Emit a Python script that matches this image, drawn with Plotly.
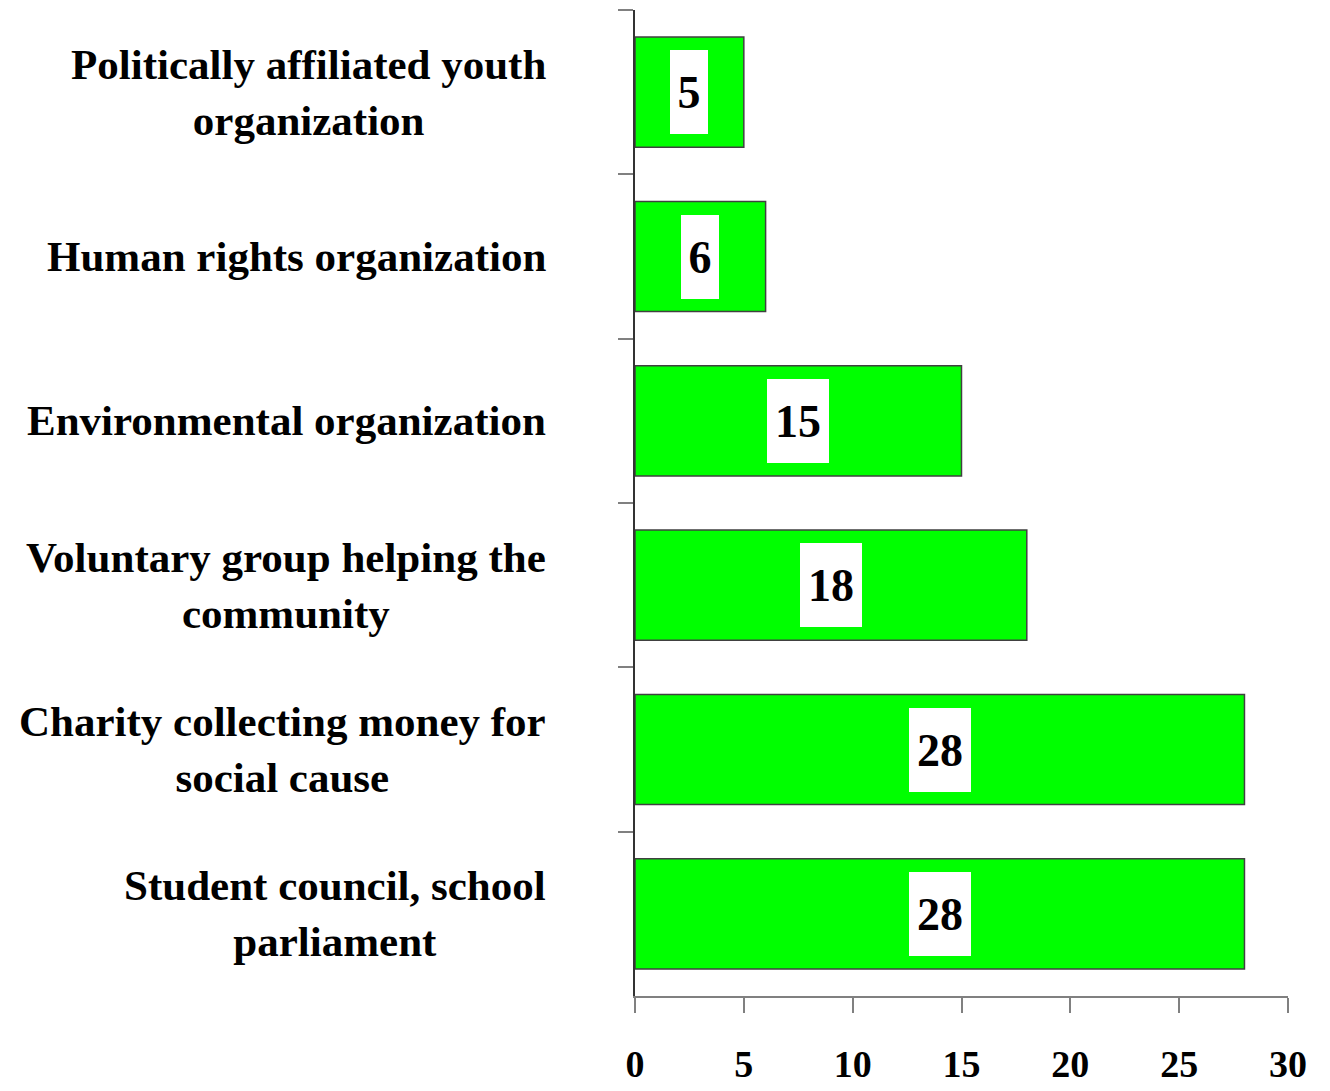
import plotly.graph_objects as go

categories = [
    "Politically affiliated youth<br>organization",
    "Human rights organization",
    "Environmental organization",
    "Voluntary group helping the<br>community",
    "Charity collecting money for<br>social cause",
    "Student council, school<br>parliament",
]
values = [5, 6, 15, 18, 28, 28]
x_ticks = [0, 5, 10, 15, 20, 25, 30]

FONT = "Liberation Serif, Times New Roman, serif"

fig = go.Figure()
fig.add_trace(go.Bar(
    y=categories,
    x=values,
    orientation="h",
    width=0.67,
    marker=dict(color="#00FF00", line=dict(color="#404040", width=1.5)),
    hoverinfo="skip",
))

for cat, v in zip(categories, values):
    txt = str(v)
    fig.add_annotation(
        x=v / 2, y=cat, xref="x", yref="y",
        text="<b>%s</b>" % txt, showarrow=False,
        font=dict(family=FONT, size=46, color="black"),
        bgcolor="white", borderpad=0, borderwidth=0,
        width=14 + 24 * len(txt), height=84,
        xanchor="center", yanchor="middle",
    )
    fig.add_annotation(
        x=0, y=cat, xref="paper", yref="y",
        text="<b>%s</b>" % cat, showarrow=False,
        font=dict(family=FONT, size=43, color="black"),
        align="center", xanchor="right", yanchor="middle",
        xshift=-87,
    )

fig.update_layout(
    width=1330, height=1091,
    margin=dict(l=635, r=42, t=10, b=95, autoexpand=False),
    paper_bgcolor="white", plot_bgcolor="white",
    showlegend=False,
    xaxis=dict(
        range=[0, 30], tickvals=x_ticks, ticktext=[str(t) for t in x_ticks],
        showgrid=False, zeroline=False, automargin=False,
        showline=True, linecolor="#808080", linewidth=2,
        ticks="outside", ticklen=15, tickcolor="#808080", tickwidth=2,
        tickfont=dict(family=FONT, size=38, color="black", weight="bold"),
        ticklabelstandoff=18,
    ),
    yaxis=dict(
        categoryorder="array", categoryarray=categories,
        autorange="reversed", automargin=False,
        showgrid=False, zeroline=False,
        showline=True, linecolor="#333333", linewidth=2,
        ticks="outside", ticklen=15, tickcolor="#808080", tickwidth=2,
        tickson="boundaries",
        showticklabels=False,
    ),
)

fig.write_html("out.html")
